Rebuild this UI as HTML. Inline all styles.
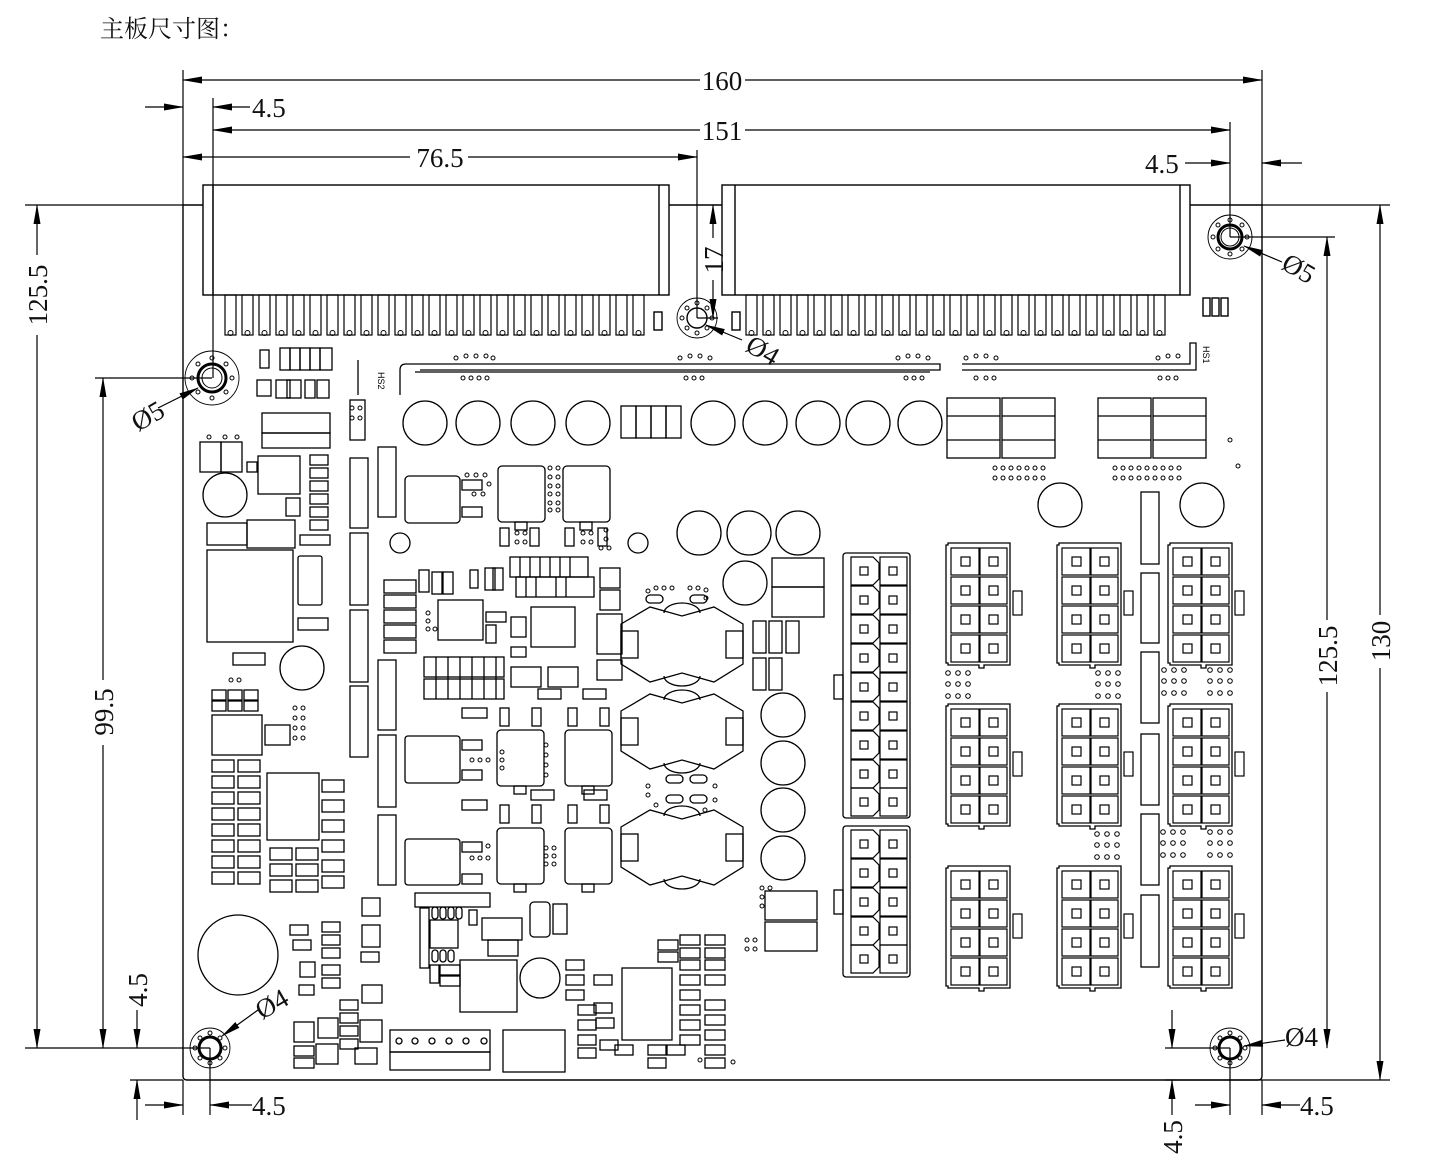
<!DOCTYPE html>
<html><head><meta charset="utf-8"><style>
html,body{margin:0;padding:0;background:#fff;width:1440px;height:1166px;overflow:hidden}
svg{display:block}
.t{font-family:"Liberation Serif","Noto Serif CJK SC",serif;font-size:27px;fill:#111}
</style></head><body>
<svg width="1440" height="1166" viewBox="0 0 1440 1166" xmlns="http://www.w3.org/2000/svg">
<defs>
<marker id="a" markerWidth="20" markerHeight="8" refX="19" refY="4" orient="auto-start-reverse" markerUnits="userSpaceOnUse"><path d="M0,0.5 L20,4 L0,7.5z" fill="#000"/></marker>
<g id="mx">
<path d="M0,2 h2 v-2 h62 v122 h-26 v3 h-5 v-3 h-31 v-2 h-2z" fill="none" stroke="#000" stroke-width="1.3"/>
<rect x="67" y="48" width="9" height="24" fill="none" stroke="#000" stroke-width="1.2"/>
<g fill="none" stroke="#000" stroke-width="1.2">
<rect x="5" y="5" width="28" height="27"/><rect x="34" y="5" width="27" height="27"/>
<rect x="5" y="34" width="28" height="27"/><rect x="34" y="34" width="27" height="27"/>
<rect x="5" y="63" width="28" height="27"/><rect x="34" y="63" width="27" height="27"/>
<rect x="5" y="92" width="28" height="27"/><rect x="34" y="92" width="27" height="27"/>
<rect x="15" y="14" width="9" height="9"/><rect x="43" y="14" width="9" height="9"/>
<rect x="15" y="43" width="9" height="9"/><rect x="43" y="43" width="9" height="9"/>
<rect x="15" y="72" width="9" height="9"/><rect x="43" y="72" width="9" height="9"/>
<rect x="15" y="101" width="9" height="9"/><rect x="43" y="101" width="9" height="9"/>
</g></g>
<g id="pc" fill="none" stroke="#000" stroke-width="1.2">
<path d="M4,0 h22 l6,6 v16 l-6,6 h-22z"/><rect x="33" y="0" width="27" height="28"/>
<rect x="13" y="10" width="8" height="8"/><rect x="42" y="10" width="8" height="8"/>
</g>
<g id="ind" fill="none" stroke="#000" stroke-width="1.3">
<path d="M0,17 L29,0 L61,9 L93,0 L122,17 L122,57 L93,75 L61,66 L29,75 L0,57z"/>
<path d="M43,6 a18,10 0 0 1 36,0 M43,69 a18,10 0 0 0 36,0"/>
<rect x="0" y="24" width="17" height="27"/><rect x="105" y="24" width="17" height="27"/>
</g>
<g id="pin"><rect x="0" y="0" width="11" height="40" fill="none" stroke="#000" stroke-width="1.2"/><circle cx="5.5" cy="38" r="2.5" fill="none" stroke="#000"/></g>
<g id="dots3"><g fill="none" stroke="#000" stroke-width="1"><circle cx="0" cy="0" r="2.3"/><circle cx="10" cy="0" r="2.3"/><circle cx="20" cy="0" r="2.3"/><circle cx="0" cy="11" r="2.3"/><circle cx="10" cy="11" r="2.3"/><circle cx="20" cy="11" r="2.3"/><circle cx="0" cy="23" r="2.3"/><circle cx="10" cy="23" r="2.3"/><circle cx="20" cy="23" r="2.3"/></g></g>
<g id="sq" fill="none" stroke="#000" stroke-width="1.3"><rect x="0" y="0" width="47" height="56" rx="4"/><rect x="17" y="56" width="12" height="8"/></g>
</defs>

<text x="100" y="37" class="t" style="font-size:24px">主板尺寸图：</text>

<!-- board outline -->
<g fill="none" stroke="#000" stroke-width="1.4">
<path d="M183,205 H203 M669,205 H722 M1190,205 H1262 V1076 q0,4 -4,4 H187 q-4,0 -4,-4 V205"/>
</g>

<!-- big connectors -->
<g fill="none" stroke="#000" stroke-width="1.4">
<rect x="203" y="185" width="466" height="110"/><line x1="213" y1="185" x2="213" y2="295"/><line x1="659" y1="185" x2="659" y2="295"/>
<rect x="722" y="185" width="468" height="110"/><line x1="735" y1="185" x2="735" y2="295"/><line x1="1180" y1="185" x2="1180" y2="295"/>
<rect x="654" y="312" width="8" height="18"/><rect x="732" y="312" width="8" height="18"/>
<rect x="1203" y="298" width="7" height="18"/><rect x="1212" y="298" width="7" height="18"/><rect x="1221" y="298" width="7" height="18"/>
</g>
<g>
<use href="#pin" x="225" y="295"/><use href="#pin" x="242" y="295"/><use href="#pin" x="259" y="295"/><use href="#pin" x="276" y="295"/><use href="#pin" x="293" y="295"/><use href="#pin" x="310" y="295"/><use href="#pin" x="327" y="295"/><use href="#pin" x="344" y="295"/><use href="#pin" x="361" y="295"/><use href="#pin" x="378" y="295"/><use href="#pin" x="395" y="295"/><use href="#pin" x="412" y="295"/><use href="#pin" x="429" y="295"/><use href="#pin" x="446" y="295"/><use href="#pin" x="463" y="295"/><use href="#pin" x="480" y="295"/><use href="#pin" x="497" y="295"/><use href="#pin" x="514" y="295"/><use href="#pin" x="531" y="295"/><use href="#pin" x="548" y="295"/><use href="#pin" x="565" y="295"/><use href="#pin" x="582" y="295"/><use href="#pin" x="599" y="295"/><use href="#pin" x="616" y="295"/><use href="#pin" x="633" y="295"/>
<use href="#pin" x="746" y="295"/><use href="#pin" x="763" y="295"/><use href="#pin" x="780" y="295"/><use href="#pin" x="797" y="295"/><use href="#pin" x="814" y="295"/><use href="#pin" x="831" y="295"/><use href="#pin" x="848" y="295"/><use href="#pin" x="865" y="295"/><use href="#pin" x="882" y="295"/><use href="#pin" x="899" y="295"/><use href="#pin" x="916" y="295"/><use href="#pin" x="933" y="295"/><use href="#pin" x="950" y="295"/><use href="#pin" x="967" y="295"/><use href="#pin" x="984" y="295"/><use href="#pin" x="1001" y="295"/><use href="#pin" x="1018" y="295"/><use href="#pin" x="1035" y="295"/><use href="#pin" x="1052" y="295"/><use href="#pin" x="1069" y="295"/><use href="#pin" x="1086" y="295"/><use href="#pin" x="1103" y="295"/><use href="#pin" x="1120" y="295"/><use href="#pin" x="1137" y="295"/><use href="#pin" x="1154" y="295"/>
</g>

<!-- heatsink lines -->
<g fill="none" stroke="#000" stroke-width="1.3">
<path d="M400,395 V370 q0,-6 6,-6 H940 V370 H420"/><line x1="415" y1="372" x2="930" y2="372"/>
<line x1="358" y1="360" x2="358" y2="395"/>
<path d="M962,364 H1190 V343 H1196 V370 H962"/>
</g>
<text x="0" y="0" transform="translate(378,372) rotate(90)" style="font-family:'Liberation Sans',sans-serif;font-size:9px">HS2</text>
<text x="0" y="0" transform="translate(1203,346) rotate(90)" style="font-family:'Liberation Sans',sans-serif;font-size:9px">HS1</text>
<g fill="none" stroke="#000" stroke-width="1">
<circle cx="456" cy="358" r="2"/><circle cx="466" cy="356" r="2"/><circle cx="476" cy="356" r="2"/><circle cx="486" cy="356" r="2"/><circle cx="493" cy="358" r="2"/>
<circle cx="463" cy="378" r="2"/><circle cx="471" cy="378" r="2"/><circle cx="479" cy="378" r="2"/><circle cx="487" cy="378" r="2"/>
<circle cx="680" cy="358" r="2"/><circle cx="690" cy="356" r="2"/><circle cx="700" cy="356" r="2"/><circle cx="710" cy="358" r="2"/>
<circle cx="686" cy="378" r="2"/><circle cx="694" cy="378" r="2"/><circle cx="702" cy="378" r="2"/>
<circle cx="898" cy="358" r="2"/><circle cx="908" cy="356" r="2"/><circle cx="918" cy="356" r="2"/><circle cx="928" cy="358" r="2"/>
<circle cx="906" cy="378" r="2"/><circle cx="914" cy="378" r="2"/><circle cx="922" cy="378" r="2"/>
<circle cx="966" cy="358" r="2"/><circle cx="976" cy="356" r="2"/><circle cx="986" cy="356" r="2"/><circle cx="996" cy="358" r="2"/>
<circle cx="976" cy="378" r="2"/><circle cx="986" cy="378" r="2"/><circle cx="994" cy="378" r="2"/>
<circle cx="1158" cy="358" r="2"/><circle cx="1168" cy="356" r="2"/><circle cx="1178" cy="356" r="2"/>
<circle cx="1160" cy="378" r="2"/><circle cx="1168" cy="378" r="2"/><circle cx="1176" cy="378" r="2"/>
</g>

<!-- top capacitor row -->
<g fill="none" stroke="#000" stroke-width="1.3">
<circle cx="425" cy="423" r="22"/><circle cx="478" cy="423" r="22"/><circle cx="533" cy="423" r="22"/><circle cx="588" cy="423" r="22"/>
<rect x="621" y="406" width="15" height="32"/><rect x="636" y="406" width="15" height="32"/><rect x="651" y="406" width="15" height="32"/><rect x="666" y="406" width="15" height="32"/>
<circle cx="713" cy="423" r="22"/><circle cx="765" cy="423" r="22"/><circle cx="818" cy="423" r="22"/><circle cx="868" cy="423" r="22"/><circle cx="920" cy="423" r="22"/>
<rect x="947" y="398" width="53" height="60"/><rect x="1002" y="398" width="53" height="60"/>
<line x1="947" y1="416" x2="1000" y2="416"/><line x1="947" y1="440" x2="1000" y2="440"/><line x1="1002" y1="416" x2="1055" y2="416"/><line x1="1002" y1="440" x2="1055" y2="440"/>
<rect x="1098" y="398" width="53" height="60"/><rect x="1153" y="398" width="53" height="60"/>
<line x1="1098" y1="416" x2="1151" y2="416"/><line x1="1098" y1="440" x2="1151" y2="440"/><line x1="1153" y1="416" x2="1206" y2="416"/><line x1="1153" y1="440" x2="1206" y2="440"/>
<circle cx="1060" cy="505" r="22"/><circle cx="1202" cy="505" r="22"/>
</g>
<g fill="none" stroke="#000" stroke-width="1">
<circle cx="995" cy="468" r="2"/><circle cx="1003" cy="468" r="2"/><circle cx="1011" cy="468" r="2"/><circle cx="1019" cy="468" r="2"/><circle cx="1027" cy="468" r="2"/><circle cx="1035" cy="468" r="2"/><circle cx="1043" cy="468" r="2"/>
<circle cx="995" cy="478" r="2"/><circle cx="1003" cy="478" r="2"/><circle cx="1011" cy="478" r="2"/><circle cx="1019" cy="478" r="2"/><circle cx="1027" cy="478" r="2"/><circle cx="1035" cy="478" r="2"/><circle cx="1043" cy="478" r="2"/>
<circle cx="1115" cy="468" r="2"/><circle cx="1123" cy="468" r="2"/><circle cx="1131" cy="468" r="2"/><circle cx="1139" cy="468" r="2"/><circle cx="1147" cy="468" r="2"/><circle cx="1155" cy="468" r="2"/><circle cx="1163" cy="468" r="2"/><circle cx="1171" cy="468" r="2"/><circle cx="1179" cy="468" r="2"/>
<circle cx="1115" cy="478" r="2"/><circle cx="1123" cy="478" r="2"/><circle cx="1131" cy="478" r="2"/><circle cx="1139" cy="478" r="2"/><circle cx="1147" cy="478" r="2"/><circle cx="1155" cy="478" r="2"/><circle cx="1163" cy="478" r="2"/><circle cx="1171" cy="478" r="2"/><circle cx="1179" cy="478" r="2"/>
<circle cx="1238" cy="466" r="2"/><circle cx="1230" cy="440" r="2"/>
</g>

<!-- right connectors -->
<g fill="none" stroke="#000" stroke-width="1.3">
<rect x="843" y="553" width="67" height="265" rx="3"/><rect x="834" y="675" width="9" height="24"/>
<rect x="843" y="826" width="67" height="151" rx="3"/><rect x="834" y="890" width="9" height="24"/>
<rect x="1141" y="492" width="18" height="72"/><rect x="1141" y="573" width="18" height="70"/><rect x="1141" y="652" width="18" height="71"/><rect x="1141" y="734" width="18" height="71"/><rect x="1141" y="814" width="18" height="71"/><rect x="1141" y="895" width="18" height="72"/>
</g>
<use href="#pc" x="847" y="557"/><use href="#pc" x="847" y="586"/><use href="#pc" x="847" y="615"/><use href="#pc" x="847" y="644"/><use href="#pc" x="847" y="673"/><use href="#pc" x="847" y="702"/><use href="#pc" x="847" y="731"/><use href="#pc" x="847" y="760"/><use href="#pc" x="847" y="788"/>
<use href="#pc" x="847" y="830"/><use href="#pc" x="847" y="859"/><use href="#pc" x="847" y="888"/><use href="#pc" x="847" y="917"/><use href="#pc" x="847" y="945"/>
<use href="#mx" x="946" y="543"/><use href="#mx" x="1057" y="543"/><use href="#mx" x="1168" y="543"/>
<use href="#mx" x="946" y="704"/><use href="#mx" x="1057" y="704"/><use href="#mx" x="1168" y="704"/>
<use href="#mx" x="946" y="866"/><use href="#mx" x="1057" y="866"/><use href="#mx" x="1168" y="866"/>
<use href="#dots3" x="948" y="673"/><use href="#dots3" x="1098" y="673"/><use href="#dots3" x="1164" y="670"/><use href="#dots3" x="1210" y="670"/>
<use href="#dots3" x="1097" y="834"/><use href="#dots3" x="1163" y="832"/><use href="#dots3" x="1210" y="832"/>

<!-- middle power section -->
<use href="#ind" x="621" y="607"/><use href="#ind" x="621" y="694"/><use href="#ind" x="621" y="810"/>
<g fill="none" stroke="#000" stroke-width="1.3">
<circle cx="699" cy="533" r="22"/><circle cx="749" cy="533" r="22"/><circle cx="798" cy="533" r="22"/><circle cx="745" cy="583" r="22"/>
<rect x="772" y="558" width="52" height="29"/><rect x="772" y="587" width="52" height="30"/>
<rect x="753" y="621" width="13" height="32"/><rect x="769" y="621" width="13" height="32"/><rect x="786" y="621" width="13" height="32"/>
<rect x="753" y="658" width="13" height="32"/><rect x="769" y="658" width="13" height="32"/>
<circle cx="783" cy="715" r="22"/><circle cx="783" cy="763" r="22"/><circle cx="783" cy="810" r="22"/><circle cx="783" cy="858" r="22"/>
<rect x="765" y="891" width="52" height="29"/><rect x="765" y="922" width="52" height="29"/>
<rect x="646" y="595" width="17" height="8" rx="4"/><rect x="690" y="595" width="17" height="8" rx="4"/>
<rect x="666" y="775" width="17" height="8" rx="4"/><rect x="690" y="775" width="17" height="8" rx="4"/>
<rect x="666" y="795" width="17" height="8" rx="4"/><rect x="690" y="795" width="17" height="8" rx="4"/>
<!-- left mid area -->
<rect x="405" y="476" width="55" height="47" rx="4"/><rect x="462" y="480" width="20" height="10"/><rect x="462" y="507" width="20" height="10"/>
<use href="#sq" x="498" y="466"/><use href="#sq" x="563" y="466"/>
<circle cx="400" cy="543" r="10"/><circle cx="638" cy="543" r="10"/>
<rect x="500" y="528" width="9" height="18"/><rect x="530" y="528" width="9" height="18"/><rect x="565" y="528" width="9" height="18"/><rect x="598" y="528" width="9" height="18"/>
<rect x="384" y="580" width="32" height="13"/><rect x="384" y="595" width="32" height="13"/><rect x="384" y="610" width="32" height="13"/><rect x="384" y="625" width="32" height="13"/><rect x="384" y="640" width="32" height="13"/>
<rect x="438" y="600" width="45" height="40"/><rect x="531" y="607" width="44" height="40"/>
<rect x="419" y="570" width="10" height="22"/><rect x="432" y="572" width="10" height="22"/><rect x="443" y="572" width="10" height="22"/><rect x="470" y="570" width="8" height="18"/><rect x="485" y="568" width="10" height="22"/><rect x="493" y="568" width="10" height="22"/>
<rect x="510" y="557" width="78" height="20"/><rect x="516" y="577" width="78" height="20"/>
<line x1="520" y1="557" x2="520" y2="577"/><line x1="530" y1="557" x2="530" y2="577"/><line x1="540" y1="557" x2="540" y2="577"/><line x1="550" y1="557" x2="550" y2="577"/><line x1="560" y1="557" x2="560" y2="577"/><line x1="570" y1="557" x2="570" y2="577"/>
<line x1="526" y1="577" x2="526" y2="597"/><line x1="536" y1="577" x2="536" y2="597"/><line x1="556" y1="577" x2="556" y2="597"/><line x1="566" y1="577" x2="566" y2="597"/>
<rect x="486" y="612" width="20" height="10"/><rect x="486" y="625" width="10" height="18"/>
<rect x="424" y="657" width="80" height="20"/><rect x="424" y="679" width="80" height="20"/>
<line x1="436" y1="657" x2="436" y2="699"/><line x1="448" y1="657" x2="448" y2="699"/><line x1="460" y1="657" x2="460" y2="699"/><line x1="472" y1="657" x2="472" y2="699"/><line x1="484" y1="657" x2="484" y2="699"/><line x1="496" y1="657" x2="496" y2="699"/>
<rect x="511" y="617" width="15" height="20"/><rect x="511" y="647" width="15" height="10"/><rect x="511" y="667" width="30" height="20"/><rect x="548" y="667" width="30" height="20"/><rect x="538" y="689" width="23" height="10"/><rect x="583" y="689" width="23" height="10"/>
<rect x="597" y="614" width="25" height="40"/><rect x="597" y="660" width="25" height="20"/><rect x="600" y="568" width="20" height="20"/><rect x="600" y="590" width="20" height="20"/>
<rect x="462" y="708" width="25" height="10"/><rect x="462" y="800" width="25" height="10"/>
<rect x="405" y="736" width="55" height="47" rx="3"/><rect x="462" y="740" width="20" height="10"/><rect x="462" y="770" width="20" height="10"/>
<use href="#sq" x="497" y="730"/><use href="#sq" x="565" y="730"/>
<rect x="500" y="708" width="9" height="18"/><rect x="532" y="708" width="9" height="18"/><rect x="568" y="708" width="9" height="18"/><rect x="600" y="708" width="9" height="18"/>
<rect x="531" y="790" width="23" height="10"/><rect x="584" y="790" width="23" height="10"/>
<rect x="405" y="839" width="55" height="46" rx="3"/><rect x="462" y="842" width="20" height="10"/><rect x="462" y="874" width="20" height="10"/>
<use href="#sq" x="497" y="828"/><use href="#sq" x="565" y="828"/>
<rect x="500" y="805" width="9" height="18"/><rect x="532" y="805" width="9" height="18"/><rect x="568" y="805" width="9" height="18"/><rect x="600" y="805" width="9" height="18"/>
<!-- vertical bars -->
<rect x="350" y="458" width="18" height="70"/><rect x="350" y="533" width="18" height="72"/><rect x="350" y="610" width="18" height="72"/><rect x="350" y="686" width="18" height="71"/>
<rect x="378" y="447" width="18" height="70"/><rect x="378" y="660" width="18" height="70"/><rect x="378" y="735" width="18" height="72"/><rect x="378" y="815" width="18" height="70"/>
<rect x="350" y="400" width="15" height="40"/>
<!-- left column -->
<rect x="260" y="350" width="9" height="18"/><rect x="280" y="348" width="10" height="22"/><rect x="290" y="348" width="10" height="22"/><rect x="300" y="348" width="10" height="22"/><rect x="310" y="348" width="10" height="22"/><rect x="320" y="348" width="12" height="22"/>
<rect x="257" y="380" width="14" height="16"/><rect x="276" y="380" width="14" height="18"/><rect x="287" y="380" width="14" height="18"/><rect x="305" y="380" width="10" height="18"/><rect x="317" y="380" width="12" height="18"/>
<rect x="262" y="413" width="68" height="20"/><rect x="262" y="433" width="68" height="15"/>
<rect x="200" y="442" width="21" height="30"/><rect x="221" y="442" width="21" height="30"/><rect x="247" y="462" width="10" height="10"/>
<rect x="258" y="456" width="42" height="38"/><rect x="310" y="455" width="18" height="10"/><rect x="310" y="468" width="18" height="10"/><rect x="310" y="481" width="18" height="10"/><rect x="310" y="494" width="18" height="10"/><rect x="310" y="507" width="18" height="10"/><rect x="310" y="520" width="18" height="10"/>
<rect x="286" y="498" width="14" height="18"/>
<circle cx="225" cy="495" r="22"/>
<rect x="207" y="523" width="40" height="22"/><rect x="247" y="520" width="48" height="28"/><rect x="300" y="535" width="30" height="10"/>
<rect x="207" y="550" width="86" height="92"/><rect x="298" y="556" width="24" height="49" rx="2"/><rect x="298" y="618" width="30" height="12"/>
<rect x="233" y="653" width="32" height="12"/>
<circle cx="302" cy="668" r="22"/>
<rect x="212" y="690" width="14" height="10"/><rect x="228" y="690" width="14" height="10"/><rect x="244" y="690" width="14" height="10"/>
<rect x="212" y="701" width="14" height="10"/><rect x="228" y="701" width="14" height="10"/><rect x="244" y="701" width="14" height="10"/>
<rect x="212" y="715" width="50" height="40"/><rect x="265" y="725" width="25" height="20"/>
<rect x="267" y="773" width="52" height="67"/>
<rect x="212" y="760" width="22" height="12"/><rect x="238" y="760" width="22" height="12"/><rect x="212" y="776" width="22" height="12"/><rect x="238" y="776" width="22" height="12"/>
<rect x="212" y="792" width="22" height="12"/><rect x="238" y="792" width="22" height="12"/><rect x="212" y="808" width="22" height="12"/><rect x="238" y="808" width="22" height="12"/>
<rect x="212" y="824" width="22" height="12"/><rect x="238" y="824" width="22" height="12"/><rect x="212" y="840" width="22" height="12"/><rect x="238" y="840" width="22" height="12"/>
<rect x="212" y="856" width="22" height="12"/><rect x="238" y="856" width="22" height="12"/><rect x="212" y="872" width="22" height="12"/><rect x="238" y="872" width="22" height="12"/>
<rect x="270" y="848" width="22" height="12"/><rect x="270" y="864" width="22" height="12"/><rect x="270" y="880" width="22" height="12"/>
<rect x="296" y="848" width="22" height="12"/><rect x="296" y="864" width="22" height="12"/><rect x="296" y="880" width="22" height="12"/>
<rect x="322" y="780" width="22" height="12"/><rect x="322" y="800" width="22" height="12"/><rect x="322" y="820" width="22" height="12"/><rect x="322" y="840" width="22" height="12"/><rect x="322" y="860" width="22" height="12"/><rect x="322" y="876" width="22" height="12"/>
<circle cx="238" cy="955" r="40"/>
<!-- bottom area -->
<rect x="415" y="893" width="75" height="14"/>
<rect x="420" y="908" width="9" height="60"/><rect x="430" y="920" width="28" height="28"/><rect x="432" y="907" width="6" height="12" rx="3"/><rect x="440" y="907" width="6" height="12" rx="3"/><rect x="448" y="907" width="6" height="12" rx="3"/><rect x="456" y="907" width="6" height="12" rx="3"/>
<rect x="432" y="950" width="6" height="12" rx="3"/><rect x="440" y="950" width="6" height="12" rx="3"/><rect x="448" y="950" width="6" height="12" rx="3"/>
<rect x="469" y="910" width="8" height="15"/><rect x="430" y="965" width="9" height="18"/><rect x="440" y="965" width="20" height="10"/><rect x="440" y="976" width="20" height="10"/>
<rect x="482" y="918" width="40" height="22"/><rect x="488" y="940" width="30" height="16"/>
<rect x="530" y="902" width="20" height="35" rx="4"/><rect x="553" y="904" width="14" height="30"/>
<rect x="460" y="960" width="57" height="52"/>
<circle cx="540" cy="978" r="20"/>
<rect x="390" y="1030" width="100" height="22"/><rect x="390" y="1052" width="100" height="18"/>
<circle cx="399" cy="1041" r="3"/><circle cx="415" cy="1041" r="3"/><circle cx="432" cy="1041" r="3"/><circle cx="449" cy="1041" r="3"/><circle cx="466" cy="1041" r="3"/><circle cx="484" cy="1041" r="3"/>
<rect x="503" y="1030" width="62" height="42"/>
<rect x="622" y="968" width="50" height="72"/>
<rect x="566" y="960" width="18" height="10"/><rect x="566" y="975" width="18" height="10"/><rect x="566" y="990" width="18" height="10"/><rect x="578" y="1005" width="18" height="10"/><rect x="578" y="1020" width="18" height="10"/><rect x="578" y="1035" width="18" height="10"/><rect x="578" y="1048" width="18" height="10"/>
<rect x="594" y="975" width="18" height="10"/><rect x="594" y="1003" width="18" height="10"/><rect x="596" y="1018" width="18" height="10"/><rect x="600" y="1040" width="18" height="10"/>
<rect x="615" y="1045" width="18" height="10"/><rect x="648" y="1045" width="18" height="10"/><rect x="648" y="1058" width="18" height="10"/><rect x="667" y="1045" width="18" height="10"/>
<rect x="658" y="940" width="20" height="10"/><rect x="658" y="952" width="20" height="10"/><rect x="680" y="935" width="20" height="10"/><rect x="680" y="948" width="20" height="10"/><rect x="680" y="960" width="20" height="10"/>
<rect x="680" y="975" width="20" height="10"/><rect x="680" y="990" width="20" height="10"/><rect x="680" y="1005" width="20" height="10"/><rect x="680" y="1020" width="20" height="10"/><rect x="680" y="1035" width="20" height="10"/>
<rect x="705" y="935" width="20" height="10"/><rect x="705" y="948" width="20" height="10"/><rect x="705" y="960" width="20" height="10"/><rect x="705" y="975" width="20" height="10"/><rect x="705" y="1000" width="20" height="10"/><rect x="705" y="1015" width="20" height="10"/><rect x="705" y="1030" width="20" height="10"/><rect x="705" y="1045" width="20" height="10"/><rect x="705" y="1058" width="20" height="10"/>
<rect x="290" y="925" width="18" height="10"/><rect x="293" y="940" width="18" height="10"/><rect x="322" y="922" width="18" height="10"/><rect x="322" y="935" width="18" height="10"/><rect x="322" y="948" width="18" height="10"/>
<rect x="362" y="898" width="18" height="18"/><rect x="362" y="925" width="18" height="22"/><rect x="361" y="952" width="18" height="10"/>
<rect x="300" y="962" width="15" height="15"/><rect x="322" y="965" width="18" height="10"/><rect x="322" y="978" width="18" height="10"/>
<rect x="299" y="985" width="15" height="10"/><rect x="294" y="1022" width="20" height="20"/><rect x="318" y="1018" width="20" height="20"/>
<rect x="340" y="1000" width="18" height="10"/><rect x="340" y="1013" width="18" height="10"/><rect x="340" y="1026" width="18" height="10"/><rect x="340" y="1039" width="18" height="10"/>
<rect x="362" y="985" width="20" height="18"/><rect x="360" y="1020" width="22" height="22"/><rect x="355" y="1048" width="22" height="16"/>
<rect x="294" y="1046" width="20" height="10"/><rect x="294" y="1058" width="20" height="10"/><rect x="316" y="1044" width="22" height="20"/>
</g>
<g fill="none" stroke="#000" stroke-width="1">
<circle cx="467" cy="475" r="2"/><circle cx="476" cy="475" r="2"/><circle cx="485" cy="475" r="2"/><circle cx="489" cy="484" r="2"/><circle cx="474" cy="494" r="2"/><circle cx="483" cy="494" r="2"/>
<circle cx="550" cy="468" r="2"/><circle cx="558" cy="468" r="2"/><circle cx="550" cy="477" r="2"/><circle cx="558" cy="477" r="2"/><circle cx="550" cy="486" r="2"/><circle cx="558" cy="486" r="2"/><circle cx="550" cy="494" r="2"/><circle cx="558" cy="494" r="2"/><circle cx="550" cy="503" r="2"/><circle cx="558" cy="503" r="2"/><circle cx="550" cy="510" r="2"/><circle cx="558" cy="510" r="2"/>
<circle cx="606" cy="530" r="2"/><circle cx="606" cy="539" r="2"/><circle cx="601" cy="548" r="2"/><circle cx="609" cy="548" r="2"/>
<circle cx="517" cy="533" r="2"/><circle cx="525" cy="533" r="2"/><circle cx="517" cy="542" r="2"/><circle cx="525" cy="542" r="2"/><circle cx="583" cy="533" r="2"/><circle cx="591" cy="533" r="2"/><circle cx="583" cy="542" r="2"/><circle cx="591" cy="542" r="2"/>
<circle cx="648" cy="591" r="2"/><circle cx="656" cy="588" r="2"/><circle cx="664" cy="588" r="2"/><circle cx="672" cy="588" r="2"/><circle cx="690" cy="588" r="2"/><circle cx="698" cy="588" r="2"/><circle cx="706" cy="590" r="2"/><circle cx="706" cy="598" r="2"/>
<circle cx="648" cy="786" r="2"/><circle cx="648" cy="795" r="2"/><circle cx="656" cy="805" r="2"/><circle cx="715" cy="786" r="2"/><circle cx="715" cy="800" r="2"/><circle cx="705" cy="810" r="2"/>
<circle cx="428" cy="613" r="2"/><circle cx="428" cy="621" r="2"/><circle cx="428" cy="629" r="2"/><circle cx="435" cy="629" r="2"/>
<circle cx="502" cy="752" r="2"/><circle cx="502" cy="760" r="2"/><circle cx="502" cy="768" r="2"/><circle cx="546" cy="745" r="2"/><circle cx="546" cy="755" r="2"/><circle cx="546" cy="765" r="2"/><circle cx="546" cy="775" r="2"/>
<circle cx="472" cy="760" r="2"/><circle cx="480" cy="760" r="2"/><circle cx="488" cy="760" r="2"/>
<circle cx="546" cy="848" r="2"/><circle cx="546" cy="856" r="2"/><circle cx="546" cy="864" r="2"/><circle cx="554" cy="848" r="2"/><circle cx="554" cy="856" r="2"/><circle cx="554" cy="864" r="2"/>
<circle cx="472" cy="858" r="2"/><circle cx="480" cy="858" r="2"/><circle cx="488" cy="858" r="2"/><circle cx="488" cy="846" r="2"/>
<circle cx="762" cy="888" r="2"/><circle cx="770" cy="888" r="2"/><circle cx="762" cy="897" r="2"/><circle cx="762" cy="906" r="2"/>
<circle cx="747" cy="940" r="2"/><circle cx="755" cy="940" r="2"/><circle cx="747" cy="949" r="2"/><circle cx="755" cy="949" r="2"/>
<circle cx="295" cy="708" r="2"/><circle cx="303" cy="708" r="2"/><circle cx="295" cy="718" r="2"/><circle cx="303" cy="718" r="2"/><circle cx="295" cy="728" r="2"/><circle cx="303" cy="728" r="2"/><circle cx="295" cy="738" r="2"/><circle cx="303" cy="738" r="2"/>
<circle cx="352" cy="408" r="2"/><circle cx="360" cy="408" r="2"/><circle cx="352" cy="418" r="2"/><circle cx="360" cy="418" r="2"/>
<circle cx="209" cy="437" r="2"/><circle cx="225" cy="437" r="2"/><circle cx="237" cy="437" r="2"/>
<circle cx="231" cy="680" r="2"/><circle cx="239" cy="680" r="2"/>
<circle cx="733" cy="1062" r="2"/><circle cx="700" cy="1060" r="2"/>
</g>

<!-- mounting holes -->
<g fill="none" stroke="#000">
<g transform="translate(212,378)"><circle r="27" stroke-width="0.9"/><circle r="14" stroke-width="3"/><circle r="10" stroke-width="1"/><circle cx="0" cy="-20" r="2"/><circle cx="0" cy="20" r="2"/><circle cx="-20" cy="0" r="2"/><circle cx="20" cy="0" r="2"/><circle cx="-14" cy="-14" r="2"/><circle cx="14" cy="-14" r="2"/><circle cx="-14" cy="14" r="2"/><circle cx="14" cy="14" r="2"/></g>
<g transform="translate(1230,237)"><circle r="22" stroke-width="0.9"/><circle r="12" stroke-width="3"/><circle r="9" stroke-width="1"/><circle cx="0" cy="-17" r="2"/><circle cx="0" cy="17" r="2"/><circle cx="-17" cy="0" r="2"/><circle cx="17" cy="0" r="2"/><circle cx="-12" cy="-12" r="2"/><circle cx="12" cy="-12" r="2"/><circle cx="-12" cy="12" r="2"/><circle cx="12" cy="12" r="2"/></g>
<g transform="translate(697,318)"><circle r="20" stroke-width="0.9"/><circle r="10" stroke-width="1.4"/><circle cx="0" cy="-15" r="2"/><circle cx="0" cy="15" r="2"/><circle cx="-15" cy="0" r="2"/><circle cx="15" cy="0" r="2"/><circle cx="-10" cy="-10" r="2"/><circle cx="10" cy="-10" r="2"/><circle cx="-10" cy="10" r="2"/><circle cx="10" cy="10" r="2"/></g>
<g transform="translate(210,1048)"><circle r="20" stroke-width="0.9"/><circle r="11" stroke-width="3"/><circle cx="0" cy="-15" r="2"/><circle cx="0" cy="15" r="2"/><circle cx="-15" cy="0" r="2"/><circle cx="15" cy="0" r="2"/><circle cx="-10" cy="-10" r="2"/><circle cx="10" cy="-10" r="2"/><circle cx="-10" cy="10" r="2"/><circle cx="10" cy="10" r="2"/></g>
<g transform="translate(1230,1048)"><circle r="20" stroke-width="0.9"/><circle r="11" stroke-width="3"/><circle cx="0" cy="-15" r="2"/><circle cx="0" cy="15" r="2"/><circle cx="-15" cy="0" r="2"/><circle cx="15" cy="0" r="2"/><circle cx="-10" cy="-10" r="2"/><circle cx="10" cy="-10" r="2"/><circle cx="-10" cy="10" r="2"/><circle cx="10" cy="10" r="2"/></g>
</g>

<!-- dimension lines -->
<g fill="none" stroke="#000" stroke-width="1.2">
<!-- extension lines -->
<line x1="183" y1="70" x2="183" y2="205"/><line x1="1262" y1="70" x2="1262" y2="205"/>
<line x1="213" y1="98" x2="213" y2="378"/><line x1="1230" y1="122" x2="1230" y2="237"/>
<line x1="697" y1="150" x2="697" y2="318"/>
<line x1="25" y1="205" x2="183" y2="205"/><line x1="1262" y1="205" x2="1390" y2="205"/>
<line x1="1230" y1="237" x2="1335" y2="237"/>
<line x1="95" y1="378" x2="212" y2="378"/>
<line x1="25" y1="1048" x2="210" y2="1048"/><line x1="1165" y1="1048" x2="1230" y2="1048"/>
<line x1="130" y1="1080" x2="183" y2="1080"/><line x1="1165" y1="1080" x2="1390" y2="1080"/>
<line x1="183" y1="1080" x2="183" y2="1115"/><line x1="210" y1="1048" x2="210" y2="1115"/>
<line x1="1230" y1="1048" x2="1230" y2="1115"/><line x1="1262" y1="1080" x2="1262" y2="1115"/>
<!-- 160 -->
<line x1="183" y1="80" x2="700" y2="80" marker-start="url(#a)"/><line x1="745" y1="80" x2="1262" y2="80" marker-end="url(#a)"/>
<!-- 4.5 top left -->
<line x1="145" y1="107" x2="183" y2="107" marker-end="url(#a)"/><line x1="213" y1="107" x2="250" y2="107" marker-start="url(#a)"/>
<!-- 151 -->
<line x1="213" y1="130" x2="700" y2="130" marker-start="url(#a)"/><line x1="745" y1="130" x2="1230" y2="130" marker-end="url(#a)"/>
<!-- 76.5 -->
<line x1="183" y1="157" x2="410" y2="157" marker-start="url(#a)"/><line x1="468" y1="157" x2="697" y2="157" marker-end="url(#a)"/>
<!-- 4.5 top right -->
<line x1="1185" y1="163" x2="1230" y2="163" marker-end="url(#a)"/><line x1="1262" y1="163" x2="1302" y2="163" marker-start="url(#a)"/>
<!-- 17 -->
<line x1="713" y1="205" x2="713" y2="238" marker-start="url(#a)"/><line x1="713" y1="280" x2="713" y2="318" marker-end="url(#a)"/><line x1="697" y1="318" x2="718" y2="318"/>
<!-- leaders -->
<line x1="742" y1="340" x2="706" y2="325" marker-end="url(#a)"/>
<line x1="1282" y1="262" x2="1244" y2="246" marker-end="url(#a)"/>
<line x1="158" y1="408" x2="198" y2="388" marker-end="url(#a)"/>
<line x1="258" y1="1010" x2="222" y2="1036" marker-end="url(#a)"/>
<line x1="1285" y1="1040" x2="1244" y2="1046" marker-end="url(#a)"/>
<!-- left 125.5 -->
<line x1="37" y1="205" x2="37" y2="255" marker-start="url(#a)"/><line x1="37" y1="335" x2="37" y2="1048" marker-end="url(#a)"/>
<!-- 99.5 -->
<line x1="103" y1="378" x2="103" y2="680" marker-start="url(#a)"/><line x1="103" y1="745" x2="103" y2="1048" marker-end="url(#a)"/>
<!-- 4.5 left vertical -->
<line x1="137" y1="1010" x2="137" y2="1048" marker-end="url(#a)"/><line x1="137" y1="1080" x2="137" y2="1120" marker-start="url(#a)"/>
<!-- bottom 4.5 -->
<line x1="145" y1="1105" x2="183" y2="1105" marker-end="url(#a)"/><line x1="210" y1="1105" x2="252" y2="1105" marker-start="url(#a)"/>
<!-- bottom right 4.5 -->
<line x1="1195" y1="1105" x2="1230" y2="1105" marker-end="url(#a)"/><line x1="1262" y1="1105" x2="1300" y2="1105" marker-start="url(#a)"/>
<line x1="1172" y1="1010" x2="1172" y2="1048" marker-end="url(#a)"/><line x1="1172" y1="1080" x2="1172" y2="1115" marker-start="url(#a)"/>
<!-- right 125.5 -->
<line x1="1327" y1="237" x2="1327" y2="620" marker-start="url(#a)"/><line x1="1327" y1="692" x2="1327" y2="1048" marker-end="url(#a)"/>
<!-- 130 -->
<line x1="1380" y1="205" x2="1380" y2="615" marker-start="url(#a)"/><line x1="1380" y1="668" x2="1380" y2="1080" marker-end="url(#a)"/>
</g>

<!-- dimension labels -->
<text x="722" y="90" class="t" text-anchor="middle">160</text>
<text x="252" y="117" class="t">4.5</text>
<text x="722" y="140" class="t" text-anchor="middle">151</text>
<text x="440" y="167" class="t" text-anchor="middle">76.5</text>
<text x="1145" y="173" class="t">4.5</text>
<text class="t" transform="translate(723,260) rotate(-90)" text-anchor="middle">17</text>
<text class="t" transform="translate(744,350) rotate(30)">Ø4</text>
<text class="t" transform="translate(1280,268) rotate(30)">Ø5</text>
<text class="t" transform="translate(138,432) rotate(-30)">Ø5</text>
<text class="t" transform="translate(262,1020) rotate(-30)">Ø4</text>
<text x="1285" y="1046" class="t">Ø4</text>
<text class="t" transform="translate(47,295) rotate(-90)" text-anchor="middle">125.5</text>
<text class="t" transform="translate(113,712) rotate(-90)" text-anchor="middle">99.5</text>
<text class="t" transform="translate(147,990) rotate(-90)" text-anchor="middle">4.5</text>
<text x="252" y="1115" class="t">4.5</text>
<text class="t" transform="translate(1182,1137) rotate(-90)" text-anchor="middle">4.5</text>
<text x="1300" y="1115" class="t">4.5</text>
<text class="t" transform="translate(1337,656) rotate(-90)" text-anchor="middle">125.5</text>
<text class="t" transform="translate(1390,641) rotate(-90)" text-anchor="middle">130</text>
</svg>
</body></html>
